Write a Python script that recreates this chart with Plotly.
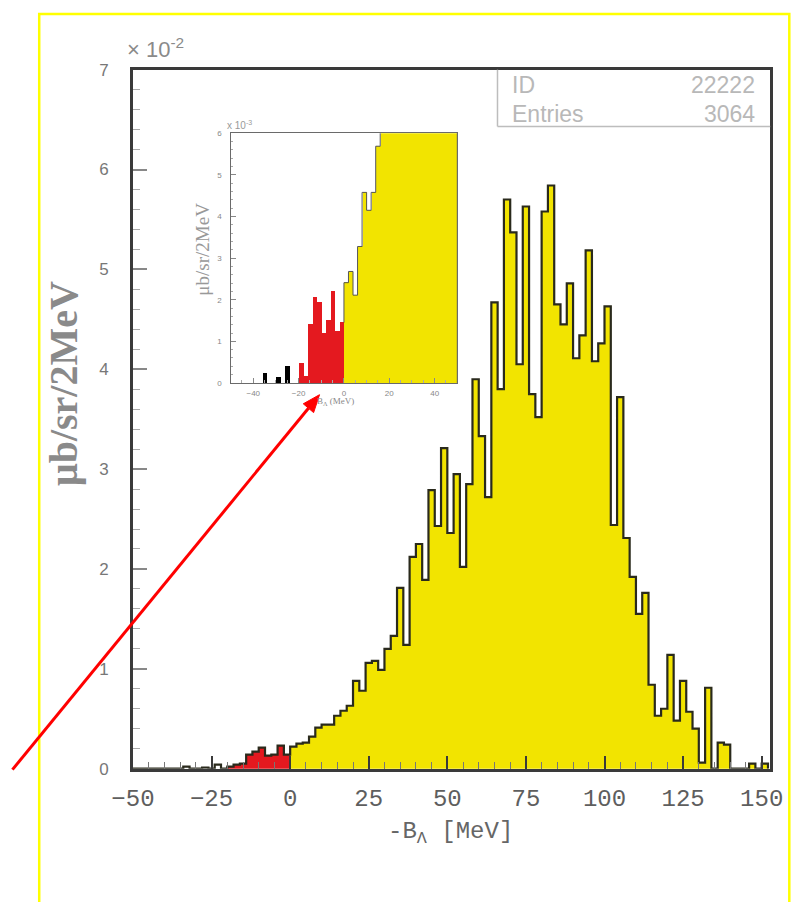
import plotly.graph_objects as go

W, H = 809, 902


def px(x):
    return x / W


def py(y):
    return 1 - y / H


# ---------------- data ----------------
# main histogram: 2 MeV bins, lower edges from -50 to 150 MeV, values in units of 10^-2 ub/sr/2MeV
bin_low = list(range(-50, 152, 2))
main_vals = [
    0, 0, 0, 0, 0, 0, 0,                      # -50 .. -38
    0, 0.02, 0, 0, 0.01, 0, 0.04, 0,         # -36 .. -22
    0.02, 0.04, 0.05, 0.14, 0.17, 0.21, 0.13, 0.14, 0.23, 0.14,   # -20 .. -2
    0.22, 0.25, 0.26, 0.32, 0.41, 0.44, 0.44, 0.53, 0.58, 0.63,   # 0 .. 18
    0.88, 0.78, 1.06, 1.08, 0.99, 1.20, 1.33, 1.81, 1.24, 2.12,   # 20 .. 38
    2.25, 1.89, 2.79, 2.43, 3.21, 2.36, 2.95, 2.02, 2.85, 3.90,   # 40 .. 58
    3.33, 2.72, 4.67, 3.80, 5.70, 5.37, 4.05, 5.63, 3.75, 3.52,   # 60 .. 78
    5.58, 5.84, 4.65, 4.45, 4.86, 4.11, 4.34, 5.19, 4.08, 4.26,   # 80 .. 98
    4.63, 2.44, 3.72, 2.31, 1.92, 1.55, 1.76, 0.84, 0.53, 0.60,   # 100 .. 118
    1.14, 0.48, 0.88, 0.57, 0.40, 0.06, 0.81, 0.00, 0.26, 0.24,   # 120 .. 138
    0, 0, 0, 0.05, 0, 0.05,                                       # 140 .. 150
]

# inset histogram: lower edges -50 .. 48 MeV, values in units of 10^-3 ub/sr/2MeV
inset_low = list(range(-50, 50, 2))
inset_vals = [
    0, 0, 0, 0, 0, 0, 0,                      # -50 .. -38
    0.22, 0, 0, 0.13, 0, 0.40, 0, 0,          # -36 .. -22
    0.47, 0.15, 1.42, 2.05, 1.95, 1.20, 1.50, 2.20, 1.25, 1.45,   # -20 .. -2
    2.41, 2.68, 2.11, 3.28, 4.58, 4.15, 4.58, 5.69, 6.6, 6.6,     # 0 .. 18
    8.8, 7.8, 10.6, 10.8, 9.9, 12.0, 13.3, 18.1, 12.4, 21.2,      # 20 .. 38
    22.5, 18.9, 27.9, 24.3, 32.1,                                 # 40 .. 48
]

x_ticks_main = [-50, -25, 0, 25, 50, 75, 100, 125, 150]
y_ticks_main = [0, 1, 2, 3, 4, 5, 6, 7]
x_ticks_inset = [-40, -20, 0, 20, 40]
y_ticks_inset = [0, 1, 2, 3, 4, 5, 6]

stat_names = ["ID", "Entries"]
stat_values = ["22222", "3064"]

# ---------------- styles ----------------
YELLOW = "#f2e400"
RED = "#e4191f"
BW = 2  # bin width (MeV)


def colors_for(lows, neg_color):
    out = []
    for lo in lows:
        if lo < -20:
            out.append(neg_color)
        elif lo < 0:
            out.append(RED)
        else:
            out.append(YELLOW)
    return out


def step_outline(lows, vals, start_at=None):
    xs, ys = [], []
    for lo, v in zip(lows, vals):
        if start_at is not None and lo < start_at:
            continue
        xs.append(lo)
        ys.append(v)
    xs.append(lows[-1] + BW)
    ys.append(vals[-1])
    xs.append(lows[-1] + BW)
    ys.append(0)
    return xs, ys


fig = go.Figure()

# main histogram fill
fig.add_trace(go.Bar(
    x=[lo + BW / 2 for lo in bin_low], y=main_vals, width=BW,
    marker=dict(color=colors_for(bin_low, "rgba(0,0,0,0)"), line=dict(width=0)),
    xaxis="x", yaxis="y", showlegend=False, hoverinfo="skip",
))
mx, my = step_outline(bin_low, main_vals)
mx = [bin_low[0]] + mx
my = [0] + my
fig.add_trace(go.Scatter(
    x=mx, y=my, mode="lines", line=dict(color="#2a2a1c", width=2.2, shape="hv"),
    xaxis="x", yaxis="y", showlegend=False, hoverinfo="skip",
))

# inset histogram
fig.add_trace(go.Bar(
    x=[lo + BW / 2 for lo in inset_low], y=inset_vals, width=BW,
    marker=dict(color=colors_for(inset_low, "#000000"), line=dict(width=0)),
    xaxis="x2", yaxis="y2", showlegend=False, hoverinfo="skip",
))
ix, iy = step_outline(inset_low, inset_vals, start_at=0)
ix = [0] + ix
iy = [inset_vals[inset_low.index(-2)]] + iy
fig.add_trace(go.Scatter(
    x=ix, y=iy, mode="lines", line=dict(color="#555555", width=1, shape="hv"),
    xaxis="x2", yaxis="y2", showlegend=False, hoverinfo="skip",
))

AX = "#3a3a3a"
fig.update_layout(
    width=W, height=H,
    margin=dict(l=0, r=0, t=0, b=0),
    paper_bgcolor="white", plot_bgcolor="white",
    bargap=0, barmode="overlay",
    xaxis=dict(
        domain=[px(116), px(782)], range=[-50, 152.7],
        tickvals=x_ticks_main, ticks="inside", ticklen=13, tickwidth=1.5, tickcolor=AX,
        minor=dict(dtick=5, ticks="inside", ticklen=7, tickwidth=1, tickcolor="#777"),
        showline=True, linecolor=AX, linewidth=2.5, mirror=True,
        showgrid=False, zeroline=False,
        tickfont=dict(family="Liberation Mono", size=24, color="#5e5e5e"),
        ticklabelstandoff=6,
    ),
    yaxis=dict(
        domain=[py(776), py(62)], range=[0, 7],
        tickvals=y_ticks_main, ticks="inside", ticklen=14, tickwidth=1.5, tickcolor="#888",
        minor=dict(dtick=0.2, ticks="inside", ticklen=7, tickwidth=1, tickcolor="#aaa"),
        showline=True, linecolor=AX, linewidth=2.5, mirror=True,
        showgrid=False, zeroline=False,
        tickfont=dict(family="Liberation Sans", size=17, color="#777"),
        ticklabelstandoff=18,
    ),
    xaxis2=dict(
        domain=[px(218), px(455)], range=[-50, 50], anchor="y2",
        tickvals=x_ticks_inset, ticks="inside", ticklen=5, tickwidth=1, tickcolor="#888",
        minor=dict(dtick=5, ticks="inside", ticklen=2.5, tickcolor="#aaa"),
        showline=True, linecolor="#6a6a6a", linewidth=1.3, mirror=True,
        showgrid=False, zeroline=False,
        tickfont=dict(family="Liberation Sans", size=8, color="#888"),
        ticklabelstandoff=2,
    ),
    yaxis2=dict(
        domain=[py(382), py(127)], range=[0, 6], anchor="x2",
        tickvals=y_ticks_inset, ticks="inside", ticklen=5, tickwidth=1, tickcolor="#888",
        minor=dict(dtick=0.2, ticks="inside", ticklen=2.5, tickcolor="#aaa"),
        showline=True, linecolor="#6a6a6a", linewidth=1.3, mirror=True,
        showgrid=False, zeroline=False,
        tickfont=dict(family="Liberation Sans", size=8, color="#888"),
        ticklabelstandoff=6,
    ),
)

ann = []
# main y title
ann.append(dict(text="<b>μb/sr/2MeV</b>", x=px(44), y=py(383), xref="paper", yref="paper",
                showarrow=False, textangle=-90, xanchor="center", yanchor="middle",
                font=dict(family="Liberation Serif", size=40, color="#8a8a8a")))
# exponent label
ann.append(dict(text="× 10<sup>-2</sup>", x=px(108), y=py(40), xref="paper", yref="paper",
                showarrow=False, xanchor="left", yanchor="middle",
                font=dict(family="Liberation Sans", size=22, color="#8a8a8a")))
# x title
ann.append(dict(text="-B<sub>Λ</sub> [MeV]", x=px(448), y=py(842), xref="paper", yref="paper",
                showarrow=False, xanchor="center", yanchor="middle",
                font=dict(family="Liberation Mono", size=24, color="#666")))
# stat box texts
for i, (nm, val) in enumerate(zip(stat_names, stat_values)):
    yy = 78 + 29 * i
    ann.append(dict(text=nm, x=px(510), y=py(yy), xref="paper", yref="paper",
                    showarrow=False, xanchor="left", yanchor="middle",
                    font=dict(family="Liberation Sans", size=23, color="#b8b8b8")))
    ann.append(dict(text=val, x=px(768), y=py(yy), xref="paper", yref="paper",
                    showarrow=False, xanchor="right", yanchor="middle",
                    font=dict(family="Liberation Sans", size=23, color="#b8b8b8")))
# inset labels
ann.append(dict(text="x 10<sup>-3</sup>", x=px(212), y=py(118), xref="paper", yref="paper",
                showarrow=False, xanchor="left", yanchor="middle",
                font=dict(family="Liberation Sans", size=10, color="#999")))
ann.append(dict(text="μb/sr/2MeV", x=px(189), y=py(245), xref="paper", yref="paper",
                showarrow=False, textangle=-90, xanchor="center", yanchor="middle",
                font=dict(family="Liberation Serif", size=19, color="#999")))
ann.append(dict(text="B<sub>Λ</sub> (MeV)", x=px(328), y=py(401), xref="paper", yref="paper",
                showarrow=False, xanchor="center", yanchor="middle",
                font=dict(family="Liberation Serif", size=9, color="#888")))
fig.update_layout(annotations=ann)

shapes = []
# outer yellow frame
shapes.append(dict(type="rect", xref="paper", yref="paper", x0=px(18), x1=px(802),
                   y0=-0.05, y1=py(5), line=dict(color="#ffff00", width=2.5)))
# stat box
shapes.append(dict(type="line", xref="paper", yref="paper", x0=px(497), x1=px(497),
                   y0=py(62), y1=py(120), line=dict(color="#bdbdbd", width=1.5)))
shapes.append(dict(type="line", xref="paper", yref="paper", x0=px(497), x1=px(782),
                   y0=py(120), y1=py(120), line=dict(color="#bdbdbd", width=1.5)))
# red arrow (line + head) pointing at the inset
tip = (311, 394)
base = (299.4, 407.8)
wing1 = (304.8, 412.3)
wing2 = (294.0, 403.3)
shapes.append(dict(type="line", xref="paper", yref="paper", x0=px(-10), y0=py(777),
                   x1=px(base[0]), y1=py(base[1]), line=dict(color="#ff0000", width=3)))
path = "M {} {} L {} {} L {} {} Z".format(px(tip[0]), py(tip[1]), px(wing1[0]), py(wing1[1]),
                                       px(wing2[0]), py(wing2[1]))
shapes.append(dict(type="path", xref="paper", yref="paper", path=path,
                   fillcolor="#ff0000", line=dict(color="#ff0000", width=1)))
fig.update_layout(shapes=shapes)

fig.write_html("out.html")
